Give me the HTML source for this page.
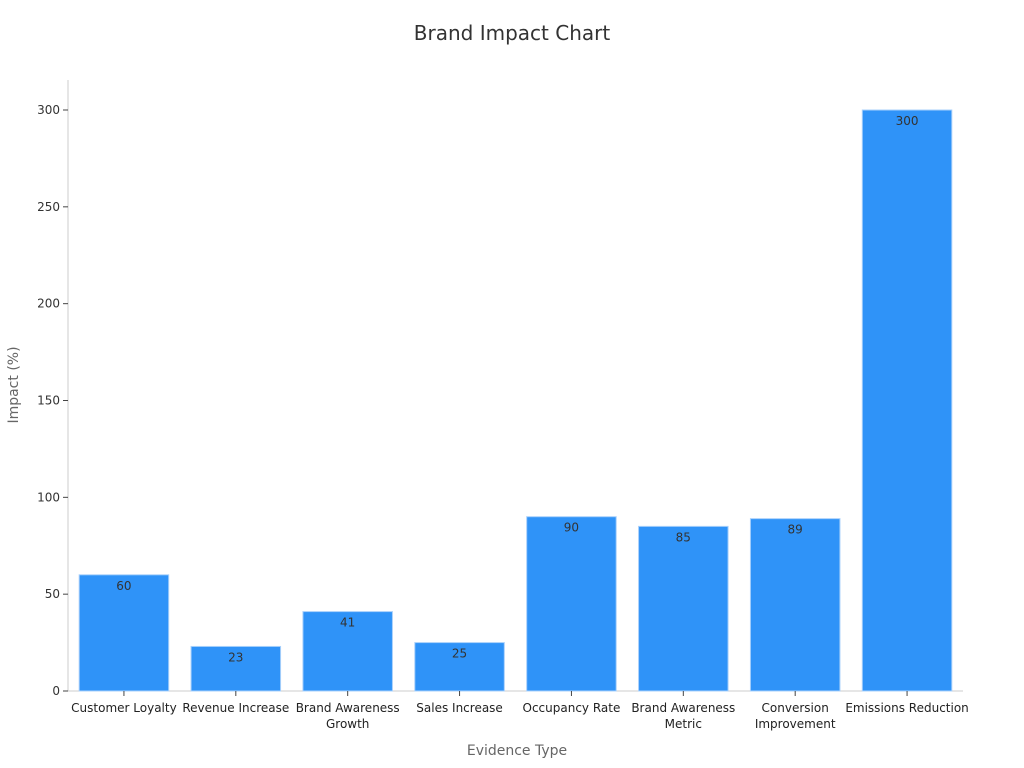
<!DOCTYPE html>
<html><head><meta charset="utf-8"><style>
body{margin:0;background:#fff;}
svg{display:block;font-family:"DejaVu Sans","Liberation Sans",sans-serif;}
</style></head><body>
<svg id="chart" width="1024" height="768">
<text x="512" y="40" text-anchor="middle" font-size="20" fill="#333">Brand Impact Chart</text>
<text x="517" y="755" text-anchor="middle" font-size="14" fill="#666">Evidence Type</text>
<text transform="translate(18,385) rotate(-90)" text-anchor="middle" font-size="14" fill="#666">Impact (%)</text>
<g id="plot"></g>
</svg>
<script>
const categories=[["Customer Loyalty"],["Revenue Increase"],["Brand Awareness","Growth"],["Sales Increase"],["Occupancy Rate"],["Brand Awareness","Metric"],["Conversion","Improvement"],["Emissions Reduction"]];
const values=[60,23,41,25,90,85,89,300];
const yTicks=[0,50,100,150,200,250,300];
const NS="http://www.w3.org/2000/svg";
const g=document.getElementById('plot');
const x0=68,x1=963,yBase=691,yTop=110,yMax=300;
const band=(x1-x0)/categories.length;
const xc=i=>x0+band*(i+0.5);
const y=v=>yBase-(v/yMax)*(yBase-yTop);
function mk(t,a){const e=document.createElementNS(NS,t);for(const k in a)e.setAttribute(k,a[k]);g.appendChild(e);return e;}
let ax=mk('line',{x1:x0,y1:80,x2:x0,y2:yBase,stroke:'#ccc'});


let bx=mk('line',{x1:x0,y1:yBase,x2:x1,y2:yBase,stroke:'#ccc'});


yTicks.forEach(t=>{
 const l=mk('line',{x1:x0-5,x2:x0,y1:y(t),y2:y(t),stroke:'#444'});
 
 
 const tx=mk('text',{x:x0-8,y:y(t)+4,'text-anchor':'end','font-size':12,fill:'#333'});
 tx.textContent=t;
 
 
});
const bw=band*0.8;
values.forEach((v,i)=>{
 const r=mk('rect',{x:xc(i)-bw/2,y:y(v),width:bw,height:yBase-y(v),fill:'#2f93f8',stroke:'#a8d0fb','stroke-width':1});
 
 
 const vt=mk('text',{x:xc(i),y:y(v)+15,'text-anchor':'middle','font-size':12,fill:'#333'});
 vt.textContent=v;
 
 
 const tk=mk('line',{x1:xc(i),x2:xc(i),y1:yBase,y2:yBase+5,stroke:'#444'});
 
 
 categories[i].forEach((s,j)=>{
  const ct=mk('text',{x:xc(i),y:yBase+21+j*16,'text-anchor':'middle','font-size':12,fill:'#222'});
  ct.textContent=s;
  
  
 });
});
</script>
</body></html>
